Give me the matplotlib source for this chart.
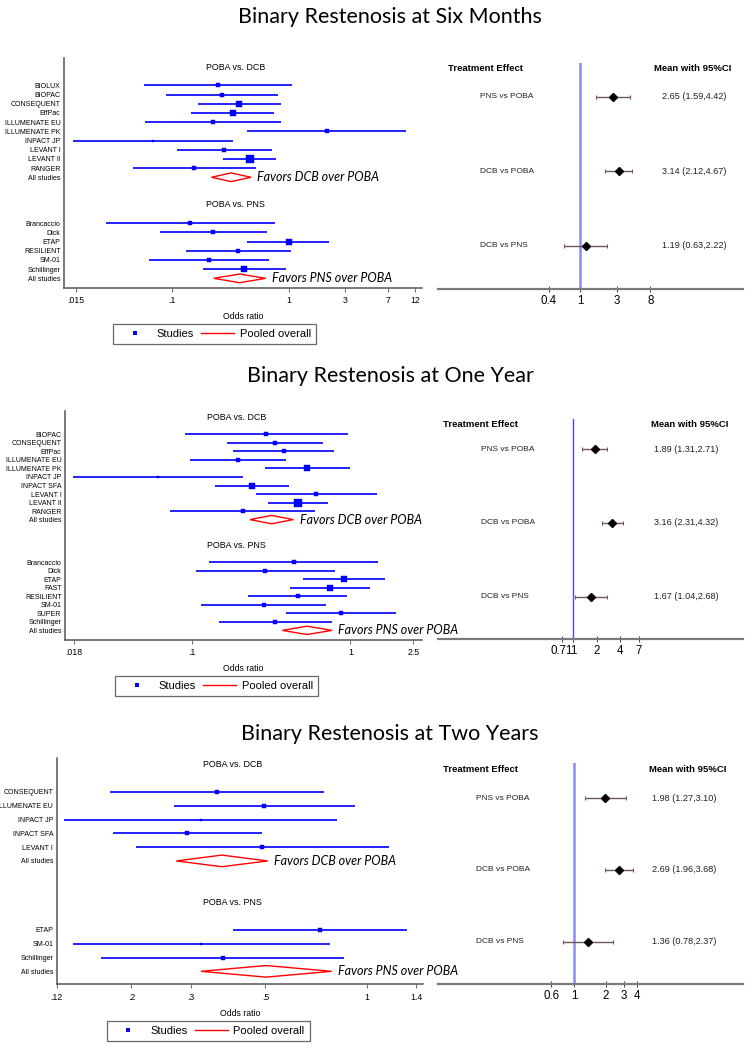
import numpy as np
import matplotlib
matplotlib.use('Agg')
import matplotlib.pyplot as plt
from matplotlib.lines import Line2D
from matplotlib.ticker import FixedLocator, NullLocator
import matplotlib.transforms as mtrans

plt.rcParams['font.family'] = ['Liberation Sans', 'DejaVu Sans']

W, H = 753, 1050

# ---------------- six months ----------------
m6_dcb_names = ['BIOLUX', 'BIOPAC', 'CONSEQUENT', 'EffPac', 'ILLUMENATE EU',
                'ILLUMENATE PK', 'INPACT JP', 'LEVANT I', 'LEVANT II', 'RANGER']
m6_dcb_or = [0.247, 0.267, 0.376, 0.33, 0.224, 2.1, 0.068, 0.28, 0.46, 0.154]
m6_dcb_lo = [0.058, 0.089, 0.168, 0.146, 0.0588, 0.44, 0.0141, 0.111, 0.273, 0.046]
m6_dcb_hi = [1.05, 0.805, 0.86, 0.748, 0.855, 10.0, 0.334, 0.71, 0.774, 0.522]
m6_dcb_w = [9, 12, 20, 20, 9, 9, 6, 16, 42, 12]
m6_dcb_pool = [0.217, 0.319, 0.473]

m6_pns_names = ['Brancaccio', 'Dick', 'ETAP', 'RESILIENT', 'SM-01', 'Schillinger']
m6_pns_or = [0.1425, 0.224, 0.99, 0.369, 0.206, 0.415]
m6_pns_lo = [0.0271, 0.0784, 0.44, 0.131, 0.063, 0.183]
m6_pns_hi = [0.753, 0.653, 2.21, 1.04, 0.67, 0.948]
m6_pns_w = [9, 16, 20, 16, 12, 20]
m6_pns_pool = [0.227, 0.378, 0.631]

m6_ticks = [0.015, 0.1, 1, 3, 7, 12]
m6_ticklabels = ['.015', '.1', '1', '3', '7', '12']

m6_nma_labels = ['PNS vs POBA', 'DCB vs POBA', 'DCB vs PNS']
m6_nma_mean = [2.65, 3.14, 1.19]
m6_nma_lo = [1.59, 2.12, 0.63]
m6_nma_hi = [4.42, 4.67, 2.22]
m6_nma_ticks = [0.4, 1, 3, 8]
m6_nma_ticklabels = ['0.4', '1', '3', '8']

# ---------------- one year ----------------
y1_dcb_names = ['BIOPAC', 'CONSEQUENT', 'EffPac', 'ILLUMENATE EU', 'ILLUMENATE PK',
                'INPACT JP', 'INPACT SFA', 'LEVANT I', 'LEVANT II', 'RANGER']
y1_dcb_or = [0.294, 0.335, 0.380, 0.195, 0.536, 0.0613, 0.239, 0.61, 0.468, 0.21]
y1_dcb_lo = [0.0908, 0.166, 0.183, 0.0975, 0.29, 0.0179, 0.140, 0.255, 0.304, 0.0733]
y1_dcb_hi = [0.963, 0.676, 0.789, 0.393, 0.99, 0.211, 0.41, 1.47, 0.72, 0.601]
y1_dcb_w = [9, 16, 16, 16, 20, 6, 25, 12, 36, 9]
y1_dcb_pool = [0.233, 0.319, 0.437]

y1_pns_names = ['Brancaccio', 'Dick', 'ETAP', 'FAST', 'RESILIENT', 'SM-01', 'SUPER',
                'Schillinger']
y1_pns_or = [0.44, 0.291, 0.908, 0.745, 0.466, 0.284, 0.87, 0.336]
y1_pns_lo = [0.129, 0.106, 0.501, 0.417, 0.226, 0.114, 0.393, 0.149]
y1_pns_hi = [1.50, 0.797, 1.65, 1.33, 0.957, 0.706, 1.93, 0.764]
y1_pns_w = [9, 12, 20, 20, 16, 12, 16, 12]
y1_pns_pool = [0.373, 0.533, 0.767]

y1_ticks = [0.018, 0.1, 1, 2.5]
y1_ticklabels = ['.018', '.1', '1', '2.5']

y1_nma_labels = ['PNS vs POBA', 'DCB vs POBA', 'DCB vs PNS']
y1_nma_mean = [1.89, 3.16, 1.67]
y1_nma_lo = [1.31, 2.31, 1.04]
y1_nma_hi = [2.71, 4.32, 2.68]
y1_nma_ticks = [0.71, 1, 2, 4, 7]
y1_nma_ticklabels = ['0.71', '1', '2', '4', '7']

# ---------------- two years ----------------
y2_dcb_names = ['CONSEQUENT', 'ILLUMENATE EU', 'INPACT JP', 'INPACT SFA', 'LEVANT I']
y2_dcb_or = [0.36, 0.496, 0.321, 0.292, 0.49]
y2_dcb_lo = [0.173, 0.267, 0.126, 0.176, 0.207]
y2_dcb_hi = [0.747, 0.921, 0.818, 0.488, 1.162]
y2_dcb_w = [9, 12, 6, 16, 9]
y2_dcb_pool = [0.272, 0.371, 0.508]

y2_pns_names = ['ETAP', 'SM-01', 'Schillinger']
y2_pns_or = [0.725, 0.322, 0.373]
y2_pns_lo = [0.4, 0.134, 0.163]
y2_pns_hi = [1.315, 0.778, 0.853]
y2_pns_w = [12, 6, 9]
y2_pns_pool = [0.322, 0.502, 0.787]

y2_ticks = [0.12, 0.2, 0.3, 0.5, 1, 1.4]
y2_ticklabels = ['.12', '.2', '.3', '.5', '1', '1.4']

y2_nma_labels = ['PNS vs POBA', 'DCB vs POBA', 'DCB vs PNS']
y2_nma_mean = [1.98, 2.69, 1.36]
y2_nma_lo = [1.27, 1.96, 0.78]
y2_nma_hi = [3.10, 3.68, 2.37]
y2_nma_ticks = [0.6, 1, 2, 3, 4]
y2_nma_ticklabels = ['0.6', '1', '2', '3', '4']

titles = ['Binary Restenosis at Six Months', 'Binary Restenosis at One Year',
          'Binary Restenosis at Two Years']

BLUE = '#2424ff'
AXC = '#555555'


def px_rect(x0, x1, y0, y1):
    return [x0 / W, 1 - y1 / H, (x1 - x0) / W, (y1 - y0) / H]


def forest(fig, rect, xlim, ylim, dh, groups, ticks, ticklabels):
    ax = fig.add_axes(rect)
    ax.set_xscale('log')
    bt = mtrans.blended_transform_factory(ax.transAxes, ax.transData)
    rows, labels = [], []
    r = 0
    for head, names, orr, lo, hi, w, pool, note in groups:
        ax.text(0.48, r, head, transform=bt, ha='center', va='center', fontsize=6.4)
        r += 2
        for i in range(len(names)):
            ax.plot([lo[i], hi[i]], [r, r], color=BLUE, lw=1.4, solid_capstyle='butt')
            ax.plot(orr[i], r, marker='s', color='#0000ff', ms=np.sqrt(w[i]) * 0.85,
                    mew=0.3)
            rows.append(r)
            labels.append(names[i])
            r += 1
        ax.fill([pool[0], pool[1], pool[2], pool[1]], [r, r - dh, r, r + dh],
                facecolor='none', edgecolor='#ff0000', lw=1)
        ax.annotate(note, (pool[2], r), xytext=(4.5, 0), textcoords='offset points',
                    ha='left', va='center', fontsize=9, style='italic', family='Lato',
                    zorder=5)
        rows.append(r)
        labels.append('All studies')
        r += 3
    ax.set_xlim(*xlim)
    ax.set_ylim(*ylim)
    ax.set_yticks(rows)
    ax.set_yticklabels(labels, fontsize=5)
    ax.tick_params(axis='y', length=0, pad=2.5)
    ax.xaxis.set_major_locator(FixedLocator(ticks))
    ax.xaxis.set_minor_locator(NullLocator())
    ax.set_xticklabels(ticklabels)
    ax.tick_params(axis='x', labelsize=6.3, length=3, width=0.6, color=AXC, pad=3)
    ax.set_xlabel('Odds ratio', fontsize=6.3, labelpad=5)
    for s in ['top', 'right']:
        ax.spines[s].set_visible(False)
    for s in ['left', 'bottom']:
        ax.spines[s].set_color(AXC)
        ax.spines[s].set_linewidth(1.1)
    return ax


def effects(fig, rect, xlim, ylim, labels, mean, lo, hi, ticks, ticklabels,
            head_y, head_x, label_x, val_x, mean_right, vline_color, vline_w):
    ax = fig.add_axes(rect)
    ax.patch.set_visible(False)
    ax.set_xscale('log')
    ax.axvline(1, color=vline_color, lw=vline_w)
    ypos = np.arange(len(labels))
    m = np.array(mean)
    err = [m - np.array(lo), np.array(hi) - m]
    ax.errorbar(m, ypos, xerr=err, fmt='D', color='black', ms=4.2, ecolor='#735656',
                elinewidth=1.0, capsize=1.3, capthick=0.8)
    bt = mtrans.blended_transform_factory(ax.transAxes, ax.transData)
    ax.text(head_x, head_y, 'Treatment Effect', transform=bt, fontsize=6.8,
            fontweight='bold', ha='left', va='center')
    ax.text(mean_right, head_y, 'Mean with 95%CI', transform=bt, fontsize=6.8,
            fontweight='bold', ha='right', va='center')
    for i in range(len(labels)):
        ax.text(label_x, ypos[i], labels[i], transform=bt, fontsize=6.0,
                ha='left', va='center', color='#222222')
        ax.text(val_x, ypos[i], f'{mean[i]:.2f} ({lo[i]:.2f},{hi[i]:.2f})', transform=bt,
                fontsize=6.6, ha='left', va='center', color='#222222')
    ax.set_xlim(*xlim)
    ax.set_ylim(*ylim)
    ax.set_yticks([])
    ax.xaxis.set_major_locator(FixedLocator(ticks))
    ax.xaxis.set_minor_locator(NullLocator())
    ax.set_xticklabels(ticklabels)
    ax.tick_params(axis='x', labelsize=8.3, length=4, width=0.7, direction='inout',
                   color='#444444', pad=2)
    for s in ['top', 'right', 'left']:
        ax.spines[s].set_visible(False)
    ax.spines['bottom'].set_color('#7a7a7a')
    ax.spines['bottom'].set_linewidth(1.6)
    return ax


def add_legend(fig, x0, y0):
    handles = [Line2D([], [], marker='s', color='#0000ff', ls='none', ms=2.2, mew=0),
               Line2D([], [], color='#ff0000', lw=1)]
    leg = fig.legend(handles, ['Studies', 'Pooled overall'], loc='upper left',
                     bbox_to_anchor=(x0 / W, 1 - y0 / H), ncol=2, fontsize=8,
                     frameon=True, fancybox=False, edgecolor='#444444',
                     handlelength=3.0, handletextpad=0.5, columnspacing=0.6,
                     borderpad=0.45, borderaxespad=0, numpoints=1)
    leg.get_frame().set_linewidth(0.9)


fig = plt.figure(figsize=(W / 100, H / 100), dpi=100)

title_y = [17, 376, 734]
for t, y in zip(titles, title_y):
    fig.text(390 / W, 1 - y / H, t, ha='center', va='center', fontsize=15.5, family='Lato')

# six months
forest(fig, px_rect(64, 422, 58, 288), (0.0119, 13.7), (24.05, -0.98), 0.47,
       [('POBA vs. DCB', m6_dcb_names, m6_dcb_or, m6_dcb_lo, m6_dcb_hi, m6_dcb_w,
         m6_dcb_pool, 'Favors DCB over POBA'),
        ('POBA vs. PNS', m6_pns_names, m6_pns_or, m6_pns_lo, m6_pns_hi, m6_pns_w,
         m6_pns_pool, 'Favors PNS over POBA')],
       m6_ticks, m6_ticklabels)
add_legend(fig, 113, 324)
effects(fig, px_rect(438, 743, 63, 289.3), (10 ** -1.821, 10 ** 2.09), (2.58, -0.451),
        m6_nma_labels, m6_nma_mean, m6_nma_lo, m6_nma_hi, m6_nma_ticks, m6_nma_ticklabels,
        -0.371, 0.033, 0.138, 0.733, 0.962, '#8a8aff', 1.8)

# one year
forest(fig, px_rect(65, 421.7, 410.7, 640), (0.0159, 2.82), (26.13, -0.78), 0.49,
       [('POBA vs. DCB', y1_dcb_names, y1_dcb_or, y1_dcb_lo, y1_dcb_hi, y1_dcb_w,
         y1_dcb_pool, 'Favors DCB over POBA'),
        ('POBA vs. PNS', y1_pns_names, y1_pns_or, y1_pns_lo, y1_pns_hi, y1_pns_w,
         y1_pns_pool, 'Favors PNS over POBA')],
       y1_ticks, y1_ticklabels)
add_legend(fig, 115, 676)
effects(fig, px_rect(438.3, 743, 419.3, 639.3), (10 ** -1.737, 10 ** 2.184), (2.578, -0.407),
        y1_nma_labels, y1_nma_mean, y1_nma_lo, y1_nma_hi, y1_nma_ticks, y1_nma_ticklabels,
        -0.33, 0.014, 0.140, 0.708, 0.951, '#4a4aff', 1.0)

# two years
forest(fig, px_rect(56.7, 422.7, 758.3, 984.3), (0.12, 1.466), (15.94, -0.435), 0.42,
       [('POBA vs. DCB', y2_dcb_names, y2_dcb_or, y2_dcb_lo, y2_dcb_hi, y2_dcb_w,
         y2_dcb_pool, 'Favors DCB over POBA'),
        ('POBA vs. PNS', y2_pns_names, y2_pns_or, y2_pns_lo, y2_pns_hi, y2_pns_w,
         y2_pns_pool, 'Favors PNS over POBA')],
       y2_ticks, y2_ticklabels)
add_legend(fig, 106.7, 1020.7)
effects(fig, px_rect(438.3, 743.3, 763.3, 984), (10 ** -1.304, 10 ** 1.62), (2.59, -0.488),
        y2_nma_labels, y2_nma_mean, y2_nma_lo, y2_nma_hi, y2_nma_ticks, y2_nma_ticklabels,
        -0.404, 0.016, 0.123, 0.70, 0.946, '#8a8aff', 1.8)

fig.savefig('out.png', dpi=100)
